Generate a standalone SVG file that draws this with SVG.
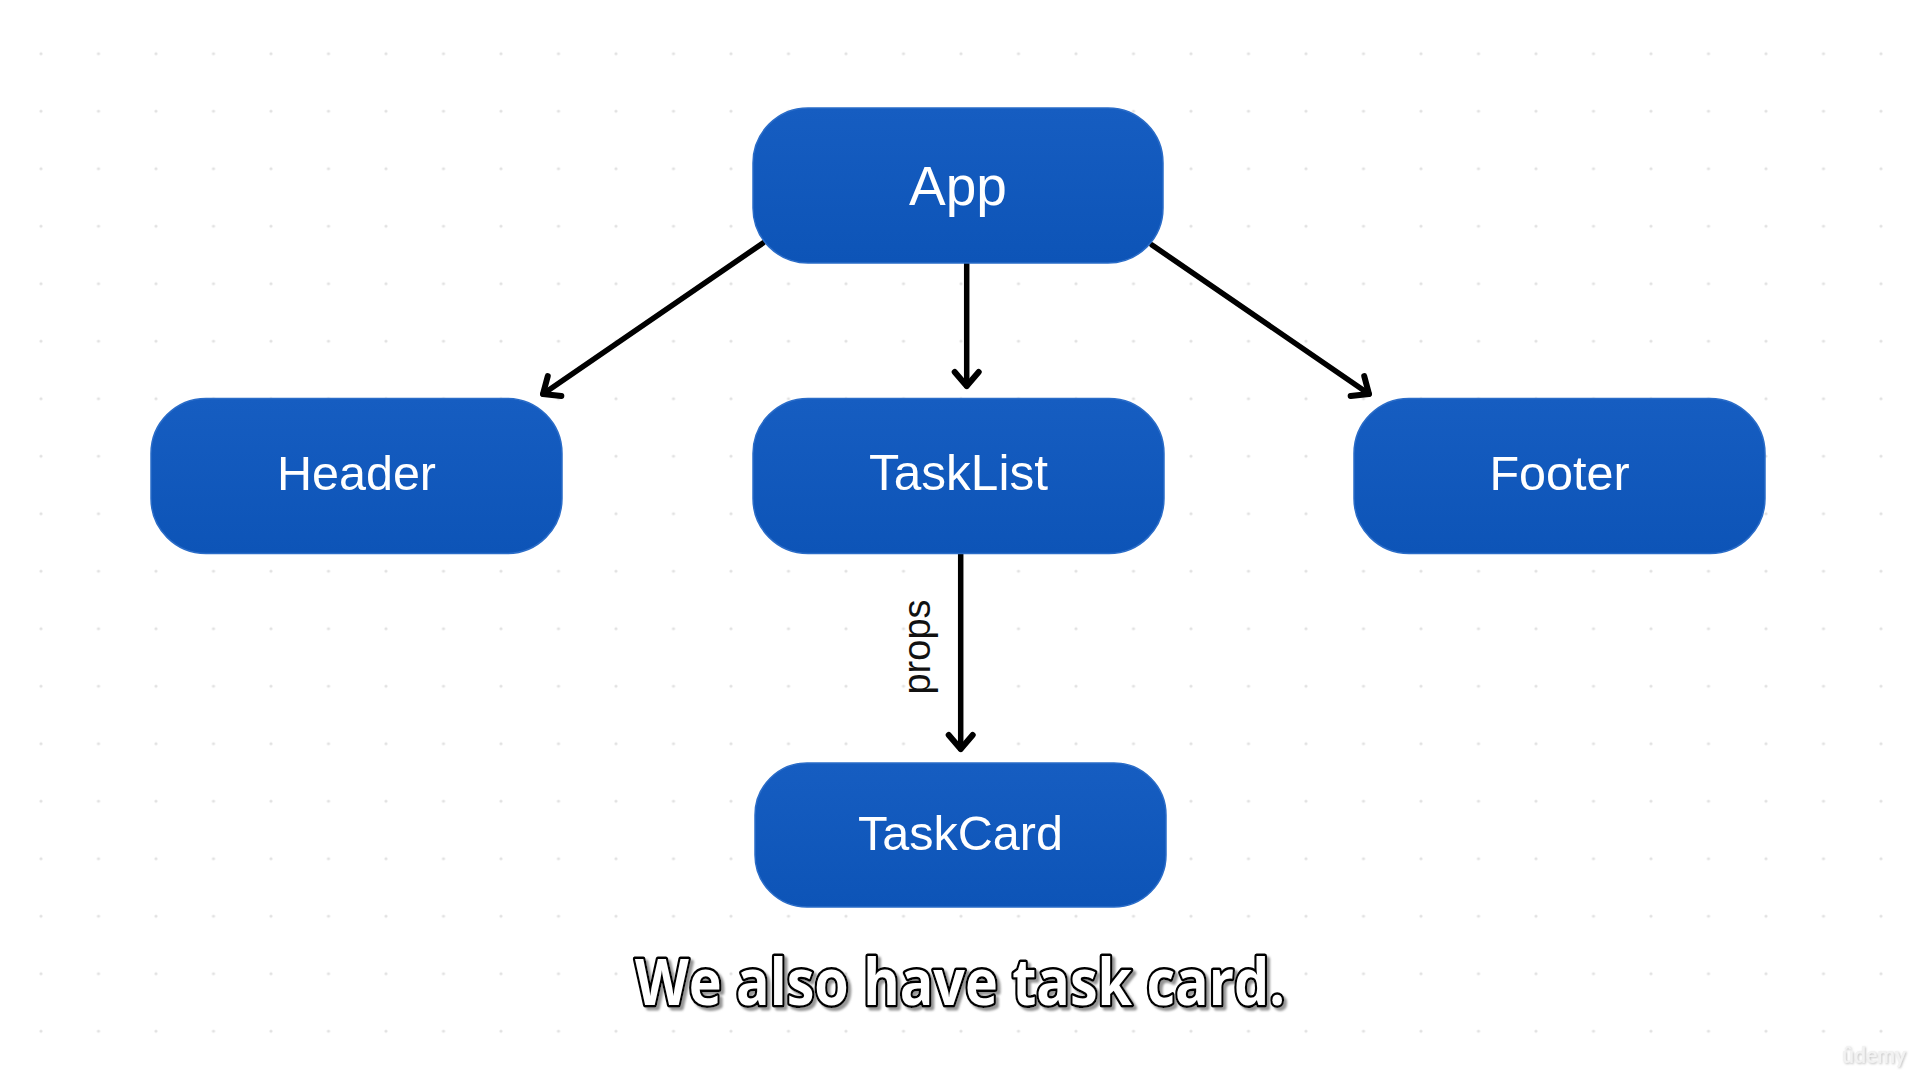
<svg xmlns="http://www.w3.org/2000/svg" width="1920" height="1080" viewBox="0 0 1920 1080">
  <defs>
    <pattern id="dots" x="41" y="53.7" width="57.5" height="57.5" patternUnits="userSpaceOnUse">
      <circle cx="0" cy="0" r="1.6" fill="#e2e2e2"/>
      <circle cx="57.5" cy="0" r="1.6" fill="#e2e2e2"/>
      <circle cx="0" cy="57.5" r="1.6" fill="#e2e2e2"/>
      <circle cx="57.5" cy="57.5" r="1.6" fill="#e2e2e2"/>
    </pattern>
    <linearGradient id="boxfill" x1="0" y1="0" x2="0" y2="1">
      <stop offset="0" stop-color="#165DC1"/>
      <stop offset="1" stop-color="#0D54B7"/>
    </linearGradient>
    <marker id="arrow" markerUnits="userSpaceOnUse" markerWidth="40" markerHeight="40" viewBox="-20 -20 40 40" refX="0" refY="0" orient="auto">
      <path d="M -14 -12 L 0 0 L -14 12" fill="none" stroke="#000" stroke-width="6" stroke-linecap="round" stroke-linejoin="round"/>
    </marker>
    <filter id="shadow" x="-5%" y="-20%" width="110%" height="150%">
      <feDropShadow dx="3" dy="3" stdDeviation="1" flood-color="#8a8a8a" flood-opacity="0.9"/>
    </filter>
    <filter id="wmshadow" x="-10%" y="-30%" width="120%" height="160%">
      <feDropShadow dx="1" dy="1" stdDeviation="0.8" flood-color="#bdbdbd" flood-opacity="0.9"/>
    </filter>
    <style>
      .box { fill: url(#boxfill); stroke: #2a6cc8; stroke-width: 1.5; }
      .label { font-family: "Liberation Sans", Arial, sans-serif; fill: #ffffff; text-anchor: middle; font-size: 48.5px; }
      .edge { fill: none; stroke: #000; stroke-width: 5.5; stroke-linecap: round; marker-end: url(#arrow); }
      .edgelabel { font-family: "Liberation Sans", Arial, sans-serif; fill: #111; font-size: 38px; text-anchor: middle; }
      .subtitle { font-family: "Open Sans", "DejaVu Sans", sans-serif; font-weight: 700; font-size: 64px; }
    </style>
  </defs>

  <rect x="0" y="0" width="1920" height="1080" fill="#ffffff"/>
  <rect x="30" y="45" width="1862" height="995" fill="url(#dots)"/>

  <g id="connectors">
    <line class="edge" x1="763" y1="243" x2="543" y2="394"/>
    <line class="edge" x1="966.7" y1="263" x2="966.7" y2="386"/>
    <line class="edge" x1="1152" y1="245" x2="1369" y2="394"/>
    <line class="edge" x1="960.7" y1="553" x2="960.7" y2="749"/>
    <text class="edgelabel" transform="translate(930 647) rotate(-90)">props</text>
  </g>

  <g id="node-app">
    <rect class="box" x="753" y="108" width="410" height="155" rx="55" ry="55"/>
    <text class="label" x="958" y="205" style="font-size:55px">App</text>
  </g>
  <g id="node-header">
    <rect class="box" x="151" y="398.5" width="411" height="155" rx="55" ry="55"/>
    <text class="label" x="356.5" y="490">Header</text>
  </g>
  <g id="node-tasklist">
    <rect class="box" x="753" y="398.5" width="411" height="155" rx="55" ry="55"/>
    <text class="label" x="958.5" y="490" style="font-size:49.5px">TaskList</text>
  </g>
  <g id="node-footer">
    <rect class="box" x="1354" y="398.5" width="411" height="155" rx="55" ry="55"/>
    <text class="label" x="1559.5" y="490">Footer</text>
  </g>
  <g id="node-taskcard">
    <rect class="box" x="755" y="763" width="411" height="144" rx="52" ry="52"/>
    <text class="label" x="960.5" y="850">TaskCard</text>
  </g>

  <g id="subtitle">
    <text class="subtitle" x="635" y="1005" fill="#ffffff" stroke="#000000" stroke-width="5" stroke-linejoin="round" paint-order="stroke" filter="url(#shadow)" textLength="650" lengthAdjust="spacingAndGlyphs">We also have task card.</text>
  </g>

  <g id="watermark">
    <text x="1842" y="1063" font-family="Lato, 'Liberation Sans', sans-serif" font-weight="700" font-size="22" fill="#f2f2f2" filter="url(#wmshadow)" textLength="64" lengthAdjust="spacingAndGlyphs">ûdemy</text>
  </g>
</svg>
